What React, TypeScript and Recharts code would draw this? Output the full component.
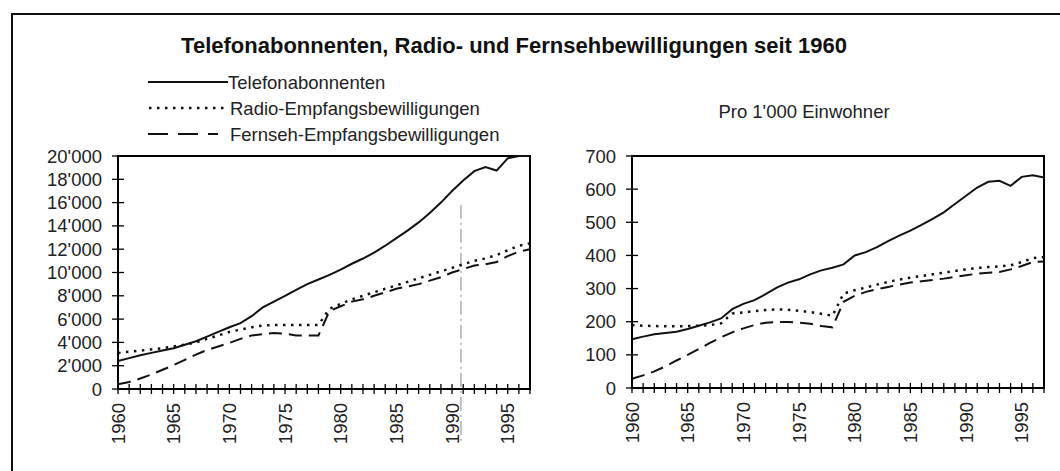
import React from "react";
import { LineChart, Line, XAxis, YAxis, ReferenceArea, ReferenceLine } from "recharts";

// Jahre 1960-1997
const years = [
  1960, 1961, 1962, 1963, 1964, 1965, 1966, 1967, 1968, 1969,
  1970, 1971, 1972, 1973, 1974, 1975, 1976, 1977, 1978, 1979,
  1980, 1981, 1982, 1983, 1984, 1985, 1986, 1987, 1988, 1989,
  1990, 1991, 1992, 1993, 1994, 1995, 1996, 1997,
];

// absolute Zahlen
const telefonAbs = [
  2400, 2650, 2900, 3100, 3300, 3500, 3800, 4100, 4500, 4900,
  5300, 5650, 6250, 7000, 7500, 8000, 8500, 9000, 9400, 9800,
  10250, 10750, 11200, 11700, 12300, 12950, 13600, 14300, 15100, 16000,
  17000, 17900, 18700, 19050, 18750, 19800, 20000, 20000,
];
const radioAbs = [
  3100, 3200, 3300, 3400, 3500, 3650, 3800, 4000, 4300, 4600,
  4900, 5100, 5300, 5450, 5500, 5500, 5500, 5500, 5500, 6900,
  7300, 7700, 8000, 8300, 8600, 8900, 9200, 9500, 9800, 10100,
  10400, 10700, 11000, 11200, 11500, 11900, 12300, 12500,
];
const fernsehAbs = [
  400, 600, 900, 1250, 1650, 2050, 2500, 2950, 3350, 3650,
  3950, 4300, 4600, 4700, 4800, 4750, 4600, 4600, 4600, 6700,
  7100, 7500, 7700, 8000, 8300, 8600, 8800, 9000, 9300, 9600,
  10000, 10300, 10600, 10700, 10900, 11400, 11800, 12000,
];

// pro 1'000 Einwohner
const telefonPro = [
  147, 155, 162, 166, 170, 178, 188, 198, 210, 238,
  254, 265, 283, 303, 318, 328, 343, 355, 363, 373,
  400, 410, 425, 443, 460, 475, 492, 510, 530, 555,
  580, 605, 622, 625, 610, 637, 642, 635,
];
const radioPro = [
  190, 188, 187, 186, 186, 187, 188, 190, 195, 225,
  228, 232, 235, 237, 236, 233, 229, 224, 218, 285,
  295, 303, 312, 320, 327, 333, 338, 343, 348, 353,
  358, 362, 365, 367, 370, 380, 392, 395,
];
const fernsehPro = [
  28, 38, 50, 65, 83, 100, 118, 136, 153, 168,
  180, 190, 197, 199, 199, 197, 194, 187, 183, 260,
  278, 290, 298, 305, 312, 318, 322, 326, 330, 335,
  340, 345, 348, 350, 358, 368, 380, 382,
];

const ticksLeft = [0, 2000, 4000, 6000, 8000, 10000, 12000, 14000, 16000, 18000, 20000];
const ticksRight = [0, 100, 200, 300, 400, 500, 600, 700];

const absData = years.map((y, i) => ({ jahr: y, telefon: telefonAbs[i], radio: radioAbs[i], fernseh: fernsehAbs[i] }));
const proData = years.map((y, i) => ({ jahr: y, telefon: telefonPro[i], radio: radioPro[i], fernseh: fernsehPro[i] }));

const FONT = "'Liberation Sans', Arial, sans-serif";
const FS = 18.5;
const DOTS = "2.5 5.5";
const DASH = "13 7";

const fmt = (v: number) => String(v).replace(/\B(?=(\d{3})+(?!\d))/g, "'");

const XTick = (props: any) => {
  const { x, y, payload } = props;
  const major = payload.value % 5 === 0;
  return (
    <g>
      <line x1={x} x2={x} y1={y - 5} y2={y + 5} stroke="#000" strokeWidth={1.3} />
      {major && (
        <text
          transform={`translate(${x + 6.5},${y + 14}) rotate(-90)`}
          textAnchor="end"
          fontSize={FS}
          fontFamily={FONT}
          fill="#222"
        >
          {payload.value}
        </text>
      )}
    </g>
  );
};

const YTick = (props: any) => {
  const { x, y, payload } = props;
  return (
    <g>
      <line x1={x - 6} x2={x + 6} y1={y} y2={y} stroke="#000" strokeWidth={1.3} />
      <text x={x - 16} y={y + 6.5} textAnchor="end" fontSize={FS} fontFamily={FONT} fill="#222">
        {fmt(payload.value)}
      </text>
    </g>
  );
};

const Chart = ({ data, max, ticks, width, margin, yWidth, mark }: any) => (
  <LineChart width={width} height={471} data={data} margin={margin}>
    <XAxis
      dataKey="jahr"
      type="number"
      domain={[1960, 1997]}
      ticks={years}
      interval={0}
      tick={<XTick />}
      tickLine={false}
      tickSize={0}
      tickMargin={0}
      height={margin.bottomAxis}
      axisLine={{ stroke: "#000", strokeWidth: 2 }}
    />
    <YAxis
      type="number"
      domain={[0, max]}
      ticks={ticks}
      interval={0}
      tick={<YTick />}
      tickLine={false}
      tickSize={0}
      tickMargin={0}
      width={yWidth}
      axisLine={{ stroke: "#000", strokeWidth: 2 }}
    />
    <ReferenceArea x1={1960} x2={1997} y1={0} y2={max} fill="none" stroke="#000" strokeWidth={2} />
    {mark && (
      <ReferenceLine
        segment={[{ x: 1990.8, y: 15800 }, { x: 1990.8, y: -4800 }]}
        ifOverflow="visible"
        stroke="#888"
        strokeWidth={1}
        strokeDasharray="14 4 2 4"
      />
    )}
    <Line dataKey="telefon" stroke="#111" strokeWidth={2} dot={false} isAnimationActive={false} />
    <Line dataKey="radio" stroke="#111" strokeWidth={2.5} strokeDasharray={DOTS} dot={false} isAnimationActive={false} />
    <Line dataKey="fernseh" stroke="#111" strokeWidth={2} strokeDasharray={DASH} dot={false} isAnimationActive={false} />
  </LineChart>
);

export default function App() {
  return (
    <div style={{ position: "absolute", left: 0, top: 0, width: 1060, height: 471, overflow: "hidden", background: "#fff", fontFamily: FONT }}>
      <div style={{ position: "absolute", left: 11, top: 13, width: 1100, height: 500, border: "2px solid #111" }} />
      <div style={{ position: "absolute", left: 0, top: 33, width: 1028, textAlign: "center", fontSize: 22, fontWeight: "bold", color: "#111" }}>
        Telefonabonnenten, Radio- und Fernsehbewilligungen seit 1960
      </div>
      <svg style={{ position: "absolute", left: 0, top: 0 }} width={600} height={150}>
        <line x1={148} x2={228} y1={82} y2={82} stroke="#111" strokeWidth={2} />
        <text x={228} y={88.5} fontSize={FS} fontFamily={FONT} fill="#222">Telefonabonnenten</text>
        <line x1={149} x2={229} y1={108} y2={108} stroke="#111" strokeWidth={2.5} strokeDasharray={DOTS} />
        <text x={230} y={114.5} fontSize={FS} fontFamily={FONT} fill="#222">Radio-Empfangsbewilligungen</text>
        <line x1={148} x2={218} y1={134} y2={134} stroke="#111" strokeWidth={2} strokeDasharray="20 10" />
        <text x={230} y={140.5} fontSize={FS} fontFamily={FONT} fill="#222">Fernseh-Empfangsbewilligungen</text>
      </svg>
      <div style={{ position: "absolute", left: 654, top: 101, width: 300, textAlign: "center", fontSize: FS, color: "#222" }}>
        Pro 1'000 Einwohner
      </div>
      <div style={{ position: "absolute", left: 0, top: 0 }}>
        <Chart
          data={absData}
          max={20000}
          ticks={ticksLeft}
          width={560}
          margin={{ top: 156, right: 30, bottom: 0, left: 0, bottomAxis: 82 }}
          yWidth={118}
          mark
        />
      </div>
      <div style={{ position: "absolute", left: 520, top: 0 }}>
        <Chart
          data={proData}
          max={700}
          ticks={ticksRight}
          width={540}
          margin={{ top: 156, right: 16, bottom: 0, left: 0, bottomAxis: 83 }}
          yWidth={112}
        />
      </div>
    </div>
  );
}
